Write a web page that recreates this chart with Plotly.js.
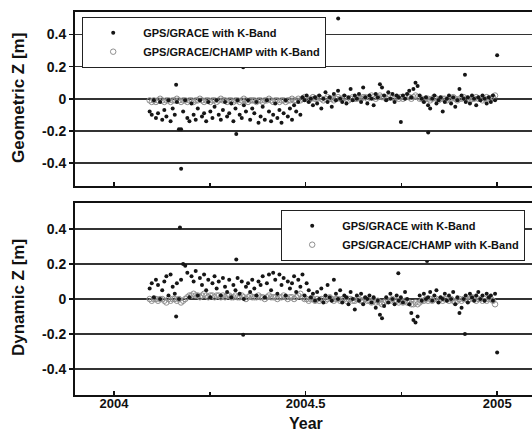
<!DOCTYPE html>
<html>
<head>
<meta charset="utf-8">
<script src="https://cdn.plot.ly/plotly-3.0.1.min.js"></script>
<style>html,body{margin:0;padding:0;background:#fff}#chart{width:532px;height:432px}</style>
</head>
<body>
<div id="chart"></div>
<script>
// Regular samples: every 2nd day of 2004, starting at day-of-year 35
const firstDay = 35;
const stepDays = 2;

// Geometric Z [m], GPS/GRACE with K-Band
const geoGrace = [
  -0.08,-0.10,-0.01,-0.12,-0.09,-0.02,-0.13,-0.07,-0.11,-0.01,
  -0.14,-0.06,-0.10,-0.02,-0.19,-0.19,-0.08,-0.01,-0.12,-0.14,
  -0.03,-0.10,-0.13,-0.06,-0.01,-0.11,-0.09,-0.14,-0.02,-0.08,
  -0.12,-0.05,-0.01,-0.10,-0.13,-0.07,-0.02,-0.11,-0.09,-0.03,
  -0.14,-0.06,-0.01,-0.10,-0.12,-0.04,-0.08,-0.01,-0.13,-0.06,
  -0.09,-0.02,-0.15,-0.11,-0.05,-0.13,-0.01,-0.08,-0.14,-0.10,
  -0.03,-0.12,-0.07,-0.15,-0.09,-0.01,-0.11,-0.06,-0.13,-0.04,
  -0.08,-0.02,-0.10,0.01,-0.01,0.02,-0.02,0.00,-0.04,0.01,
  -0.03,0.02,-0.06,0.00,0.04,-0.02,0.01,-0.05,0.03,-0.01,
  0.05,0.00,-0.02,0.02,-0.03,0.01,0.06,-0.01,0.02,0.00,
  0.03,-0.02,0.07,0.01,-0.03,0.02,0.00,-0.04,0.03,0.01,
  0.09,0.07,0.02,-0.01,0.04,0.00,0.03,-0.02,0.02,0.01,
  -0.145,0.02,0.00,0.03,0.05,0.01,0.06,0.10,0.08,0.02,
  0.00,-0.02,0.01,-0.04,-0.06,0.00,0.02,-0.03,-0.01,0.01,
  -0.08,-0.02,0.00,0.02,-0.03,0.01,-0.05,-0.01,0.06,0.02,
  0.00,-0.02,0.01,-0.03,0.02,0.00,-0.04,0.01,-0.01,0.02,
  0.00,-0.03,0.01,-0.02,0.02,-0.01
];
// Isolated GPS/GRACE points (geometric)
const geoGraceExtraYear = [2004.162, 2004.337, 2004.175, 2004.319, 2004.585, 2005.0, 2004.916, 2004.820];
const geoGraceExtraZ    = [0.087, 0.196, -0.435, -0.22, 0.50, 0.27, 0.15, -0.21];

// Geometric Z [m], GPS/GRACE/CHAMP with K-Band
const geoChamp = [
  -0.01,-0.02,-0.01,-0.02,-0.01,0.00,-0.01,-0.02,-0.01,-0.01,
  -0.02,-0.01,-0.01,0.00,-0.01,-0.02,-0.01,-0.01,-0.02,-0.01,
  -0.01,-0.02,-0.01,-0.01,0.00,-0.01,-0.02,-0.01,-0.01,-0.02,
  -0.01,-0.01,-0.02,-0.01,0.00,-0.01,-0.01,-0.02,-0.01,-0.01,
  -0.02,-0.01,-0.01,-0.02,-0.01,0.00,-0.01,-0.02,-0.01,-0.01,
  -0.01,-0.02,-0.01,-0.01,-0.02,-0.01,-0.01,0.00,-0.01,-0.02,
  -0.01,-0.01,-0.02,-0.01,-0.01,-0.02,-0.01,-0.01,0.00,-0.01,
  -0.01,0.00,-0.01,0.00,0.01,0.00,-0.01,0.00,0.01,0.00,
  0.00,0.01,0.00,-0.01,0.00,0.01,0.00,0.00,-0.01,0.00,
  0.01,0.00,0.00,0.01,0.00,-0.01,0.00,0.01,0.00,0.00,
  0.01,0.00,0.01,0.01,0.00,0.01,0.02,0.01,0.00,0.01,
  0.02,0.01,0.01,0.00,0.01,0.02,0.01,0.00,0.01,0.00,
  0.01,0.00,0.01,0.02,0.01,0.00,0.01,0.02,0.01,0.00,
  0.00,-0.01,0.00,0.00,-0.01,0.00,0.01,0.00,-0.01,0.00,
  0.00,0.00,-0.01,0.00,0.00,0.01,0.00,-0.01,0.00,0.00,
  0.01,0.00,0.00,-0.01,0.00,0.00,0.01,0.00,0.00,-0.01,
  0.00,0.01,0.00,0.00,0.01,0.02
];

// Dynamic Z [m], GPS/GRACE with K-Band
const dynGrace = [
  0.06,0.09,0.01,0.11,0.08,0.00,0.05,0.10,0.13,0.02,
  0.14,0.07,0.03,0.09,0.00,0.11,0.20,0.19,0.15,0.01,
  0.13,0.10,0.16,0.02,0.12,0.08,0.14,0.05,0.11,0.01,
  0.09,0.13,0.06,0.10,0.02,0.12,0.07,0.04,0.11,0.01,
  0.08,0.05,0.12,0.03,0.10,0.00,0.07,0.09,0.04,0.11,
  0.06,0.02,0.10,0.08,0.13,0.01,0.09,0.14,0.05,0.15,
  0.11,0.03,0.14,0.08,0.12,0.02,0.10,0.06,0.09,0.13,
  0.04,0.11,0.07,0.14,0.02,0.09,0.05,0.01,0.03,-0.01,
  0.04,0.00,0.06,-0.02,0.02,0.08,0.01,-0.01,0.11,0.03,
  0.00,0.05,-0.02,0.02,0.01,-0.03,0.04,0.00,-0.06,0.02,
  -0.01,0.03,-0.03,0.01,0.00,0.02,-0.02,0.01,-0.05,-0.01,
  -0.09,-0.11,-0.04,0.01,-0.02,0.03,0.00,-0.03,0.02,-0.01,
  0.01,-0.02,0.04,0.00,-0.03,-0.08,-0.12,-0.135,-0.10,0.02,
  -0.01,0.03,0.00,0.01,0.04,-0.01,0.02,0.05,-0.02,0.01,
  0.00,0.03,-0.01,0.02,0.00,0.04,-0.03,0.01,-0.08,-0.05,
  0.00,0.02,-0.02,0.03,0.01,-0.01,0.02,0.04,0.00,0.02,
  -0.01,0.03,0.01,0.02,-0.01,0.03
];
// Isolated GPS/GRACE points (dynamic)
const dynGraceExtraYear = [2004.172, 2004.162, 2004.319, 2004.337, 2004.817, 2004.742, 2004.916, 2005.0];
const dynGraceExtraZ    = [0.41, -0.10, 0.227, -0.205, 0.217, 0.147, -0.20, -0.306];

// Dynamic Z [m], GPS/GRACE/CHAMP with K-Band
const dynChamp = [
  0.00,-0.01,0.00,0.00,-0.01,0.00,0.00,-0.01,-0.02,0.00,
  -0.01,0.00,0.00,-0.01,0.00,-0.02,-0.01,0.00,0.01,0.02,
  0.02,0.03,0.02,0.02,0.01,0.02,0.03,0.02,0.01,0.02,
  0.02,0.01,0.02,0.02,0.01,0.02,0.01,0.02,0.02,0.01,
  0.01,0.02,0.01,0.01,0.02,0.01,0.00,0.01,0.02,0.01,
  0.01,0.01,0.02,0.01,0.01,0.00,0.01,0.02,0.01,0.01,
  0.01,0.00,0.01,0.01,0.02,0.01,0.00,0.01,0.01,0.00,
  0.01,0.02,0.03,0.01,0.00,0.00,-0.01,0.00,0.00,-0.01,
  0.00,-0.01,0.00,0.00,-0.01,0.00,0.01,0.00,-0.01,0.00,
  0.00,-0.01,0.00,0.00,-0.01,0.00,0.00,-0.01,-0.01,0.00,
  0.00,-0.01,-0.01,0.00,-0.01,-0.01,-0.02,-0.01,-0.02,-0.01,
  -0.02,-0.03,-0.02,-0.01,-0.01,-0.01,0.00,-0.01,-0.01,-0.02,
  -0.01,-0.02,-0.01,-0.02,-0.02,-0.03,-0.03,-0.02,-0.03,-0.02,
  -0.01,-0.01,0.00,-0.01,0.00,-0.01,0.00,0.00,-0.01,0.00,
  -0.01,0.00,0.00,-0.01,0.00,-0.01,-0.02,-0.01,0.00,-0.01,
  0.00,0.00,-0.01,0.00,0.01,0.00,-0.01,0.00,0.00,-0.01,
  0.00,-0.01,0.00,0.00,-0.01,-0.03
];

const seriesNames = ['GPS/GRACE with K-Band', 'GPS/GRACE/CHAMP with K-Band'];
const yTickVals = [-0.4, -0.2, 0, 0.2, 0.4];
const yTickText = ['-0.4', '-0.2', '0', '0.2', '0.4'];
const xTickVals = [2004, 2004.5, 2005];
const xTickText = ['2004', '2004.5', '2005'];

const sampleYears = geoGrace.map((_, i) => 2004 + (firstDay + stepDays * i - 1) / 366);

const FONT = 'Liberation Sans, Arial, Helvetica, sans-serif';
const blackMarker = {symbol: 'circle', size: 4, color: '#161616'};
const grayMarker = {symbol: 'circle-open', size: 5.5, color: '#8f8f8f', line: {width: 1, color: '#8f8f8f'}};

const traces = [
  {x: sampleYears, y: geoChamp, name: seriesNames[1], mode: 'markers', type: 'scatter',
   marker: grayMarker, xaxis: 'x2', yaxis: 'y2', legend: 'legend', legendrank: 2},
  {x: sampleYears.concat(geoGraceExtraYear), y: geoGrace.concat(geoGraceExtraZ), name: seriesNames[0],
   mode: 'markers', type: 'scatter', marker: blackMarker, xaxis: 'x2', yaxis: 'y2', legend: 'legend', legendrank: 1},
  {x: sampleYears, y: dynChamp, name: seriesNames[1], mode: 'markers', type: 'scatter',
   marker: grayMarker, xaxis: 'x', yaxis: 'y', legend: 'legend2', legendrank: 2},
  {x: sampleYears.concat(dynGraceExtraYear), y: dynGrace.concat(dynGraceExtraZ), name: seriesNames[0],
   mode: 'markers', type: 'scatter', marker: blackMarker, xaxis: 'x', yaxis: 'y', legend: 'legend2', legendrank: 1}
];

const W = 532, H = 432;
const xRange = [2003.898, 2005.091];
function xAxis(showLabels, anchor) {
  return {
    range: xRange, domain: [75 / W, 1], anchor: anchor,
    tickmode: 'array', tickvals: xTickVals, ticktext: xTickText, showticklabels: showLabels,
    ticks: 'inside', ticklen: 4, tickwidth: 1.5, tickcolor: '#111', ticklabelstandoff: -5,
    minor: {tickvals: [2004.25, 2004.75], ticks: 'inside', ticklen: 3, tickcolor: '#111', showgrid: false},
    showgrid: false, zeroline: false,
    showline: true, linecolor: '#111', linewidth: 2, mirror: true,
    tickfont: {family: FONT, size: 13, color: '#111', weight: 'bold'},
    automargin: false, fixedrange: true
  };
}
function yAxis(range, dom, anchor) {
  return {
    range: range, domain: dom, anchor: anchor,
    tickmode: 'array', tickvals: yTickVals, ticktext: yTickText,
    ticks: 'outside', ticklen: 4, tickwidth: 1.5, tickcolor: '#111',
    showgrid: true, gridcolor: '#333333', gridwidth: 1.6,
    zeroline: true, zerolinecolor: '#333333', zerolinewidth: 1.6,
    showline: true, linecolor: '#111', linewidth: 2, mirror: false,
    tickfont: {family: FONT, size: 14, color: '#111', weight: 'bold'},
    automargin: false, fixedrange: true
  };
}

const legendStyle = (x, y) => ({
  x: x, y: y, xanchor: 'left', yanchor: 'top', xref: 'paper', yref: 'paper',
  bgcolor: '#ffffff', bordercolor: '#222', borderwidth: 1.2,
  itemwidth: 50, tracegroupgap: 0,
  font: {family: FONT, size: 11, color: '#111', weight: 'bold'}
});

const layout = {
  width: W, height: H,
  margin: {l: 0, r: 0, t: 0, b: 0},
  paper_bgcolor: '#ffffff', plot_bgcolor: '#ffffff',
  showlegend: true,
  xaxis: xAxis(true, 'y'),
  yaxis: yAxis([-0.55, 0.55], [1 - 395 / H, 1 - 203 / H], 'x'),
  xaxis2: xAxis(false, 'y2'),
  yaxis2: yAxis([-0.54, 0.54], [1 - 185.5 / H, 1 - 12 / H], 'x2'),
  legend: legendStyle(82 / W, 1 - 17 / H),
  legend2: legendStyle(281 / W, 1 - 210 / H),
  annotations: [
    {text: 'Year', xref: 'x', yref: 'paper', x: 2004.5, y: 1 - 423 / H, xanchor: 'center', yanchor: 'middle',
     showarrow: false, font: {family: FONT, size: 16, color: '#111', weight: 'bold'}},
    {text: 'Geometric Z [m]', xref: 'paper', yref: 'paper', x: 18 / W, y: 1 - 98 / H, textangle: -90,
     xanchor: 'center', yanchor: 'middle', showarrow: false, font: {family: FONT, size: 17, color: '#111', weight: 'bold'}},
    {text: 'Dynamic Z [m]', xref: 'paper', yref: 'paper', x: 18 / W, y: 1 - 298 / H, textangle: -90,
     xanchor: 'center', yanchor: 'middle', showarrow: false, font: {family: FONT, size: 17, color: '#111', weight: 'bold'}}
  ]
};

Plotly.newPlot('chart', traces, layout, {displayModeBar: false, staticPlot: true});
</script>
</body>
</html>
